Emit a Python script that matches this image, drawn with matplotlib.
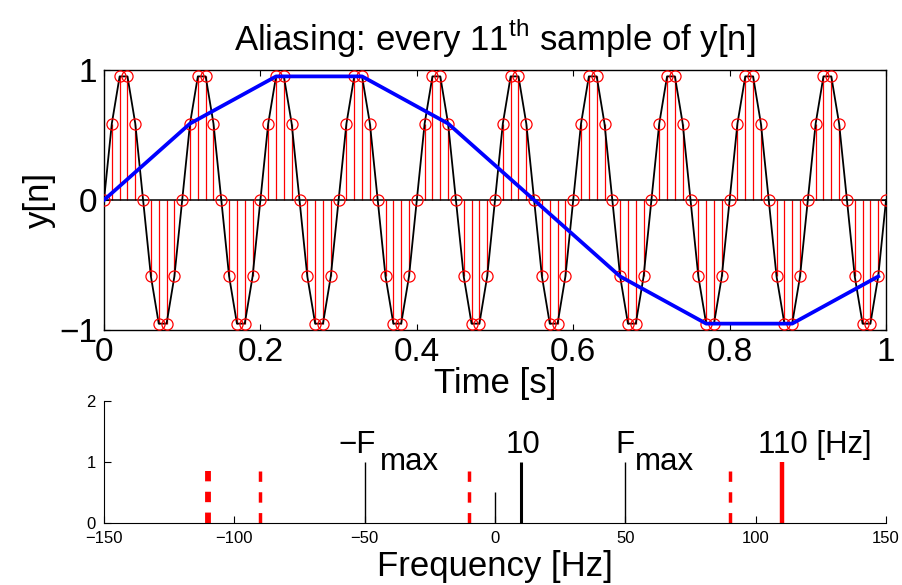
import matplotlib
matplotlib.use("Agg")
import matplotlib.pyplot as plt

plt.rcParams["font.family"] = ["Liberation Sans", "DejaVu Sans"]
plt.rcParams["mathtext.fontset"] = "custom"
plt.rcParams["mathtext.rm"] = "Liberation Sans"
plt.rcParams["lines.scale_dashes"] = False

# samples of y[n] (Fs = 100 Hz, 10 Hz sine), t = 0 .. 1 s
t = [i / 100 for i in range(101)]
y = [0, 0.588, 0.951, 0.951, 0.588, 0, -0.588, -0.951, -0.951, -0.588,
     0, 0.588, 0.951, 0.951, 0.588, 0, -0.588, -0.951, -0.951, -0.588,
     0, 0.588, 0.951, 0.951, 0.588, 0, -0.588, -0.951, -0.951, -0.588,
     0, 0.588, 0.951, 0.951, 0.588, 0, -0.588, -0.951, -0.951, -0.588,
     0, 0.588, 0.951, 0.951, 0.588, 0, -0.588, -0.951, -0.951, -0.588,
     0, 0.588, 0.951, 0.951, 0.588, 0, -0.588, -0.951, -0.951, -0.588,
     0, 0.588, 0.951, 0.951, 0.588, 0, -0.588, -0.951, -0.951, -0.588,
     0, 0.588, 0.951, 0.951, 0.588, 0, -0.588, -0.951, -0.951, -0.588,
     0, 0.588, 0.951, 0.951, 0.588, 0, -0.588, -0.951, -0.951, -0.588,
     0, 0.588, 0.951, 0.951, 0.588, 0, -0.588, -0.951, -0.951, -0.588,
     0]

# every 11th sample
t_sub = [0, 0.11, 0.22, 0.33, 0.44, 0.55, 0.66, 0.77, 0.88, 0.99]
y_sub = [0, 0.588, 0.951, 0.951, 0.588, 0, -0.588, -0.951, -0.951, -0.588]

# spectrum lines
f_orig = [-50, 0, 50]
h_orig = [1, 0.5, 1]
f_sig = 10
h_sig = 1
f_alias = [-110, -90, -10, 90]
h_alias = [0.85, 0.85, 0.85, 0.85]
f_high = 110
h_high = 1

fig = plt.figure(figsize=(9.02, 5.85), dpi=100)

# ---- top: time signal
ax1 = fig.add_axes([0.1153, 0.4359, 0.867, 0.4444])
ax1.vlines(t, 0, y, color="red", lw=0.9, zorder=1)
ax1.axhline(0, color="black", lw=1.1, zorder=2)
ax1.plot(t, y, color="black", lw=1.3, zorder=3)
ax1.plot(t, y, "o", mfc="none", mec="red", ms=8, mew=0.9, zorder=4)
ax1.plot(t_sub, y_sub, color="blue", lw=2.7, zorder=5)
ax1.set_xlim(0, 1)
ax1.set_ylim(-1, 1)
ax1.set_xticks([0, 0.2, 0.4, 0.6, 0.8, 1])
ax1.set_xticklabels(["0", "0.2", "0.4", "0.6", "0.8", "1"])
ax1.set_yticks([-1, 0, 1])
ax1.tick_params(direction="in", length=4, width=0.8, labelsize=24,
                top=True, right=True, pad=5)
ax1.set_xlabel("Time [s]", fontsize=25, labelpad=-1)
ax1.set_ylabel("y[n]", fontsize=25, labelpad=2)
ax1.set_title("Aliasing: every 11$^{\\mathrm{th}}$ sample of y[n]",
              fontsize=25, pad=14)
for s in ax1.spines.values():
    s.set_linewidth(1.0)

# ---- bottom: spectrum
ax2 = fig.add_axes([0.1153, 0.1065, 0.867, 0.2085])
ax2.vlines(f_orig, 0, h_orig, color="black", lw=1.0)
ax2.vlines(f_sig, 0, h_sig, color="black", lw=2.2)
ax2.vlines(f_alias[0], 0, h_alias[0], color="red", lw=4.2,
           linestyles=[(0, (7.5, 7.5))])
ax2.vlines(f_alias[1:], 0, h_alias[1:], color="red", lw=2.5,
           linestyles=[(0, (7.5, 7.5))])
ax2.vlines(f_high, 0, h_high, color="red", lw=3.2)

lab_y = 1.14
fs = 22.5
ax2.text(-60, lab_y, "\u2212F", fontsize=fs, va="baseline")
ax2.annotate("max", (-60, lab_y), xytext=(29.5, -12.2), textcoords="offset points",
             fontsize=fs, va="baseline")
ax2.text(4, lab_y, "10", fontsize=fs, va="baseline")
ax2.text(46, lab_y, "F", fontsize=fs, va="baseline")
ax2.annotate("max", (46, lab_y), xytext=(14.4, -12.2), textcoords="offset points",
             fontsize=fs, va="baseline")
ax2.text(101, lab_y, "110 [Hz]", fontsize=fs, va="baseline")

ax2.set_xlim(-150, 150)
ax2.set_ylim(0, 2)
ax2.set_xticks([-150, -100, -50, 0, 50, 100, 150])
ax2.set_yticks([0, 1, 2])
ax2.spines["top"].set_visible(False)
ax2.spines["right"].set_visible(False)
ax2.tick_params(direction="in", length=5, width=0.8, labelsize=12)
ax2.tick_params(axis="x", pad=6)
ax2.tick_params(axis="y", pad=6)
ax2.set_xlabel("Frequency [Hz]", fontsize=25, labelpad=3)

fig.savefig("out.png", dpi=100)
